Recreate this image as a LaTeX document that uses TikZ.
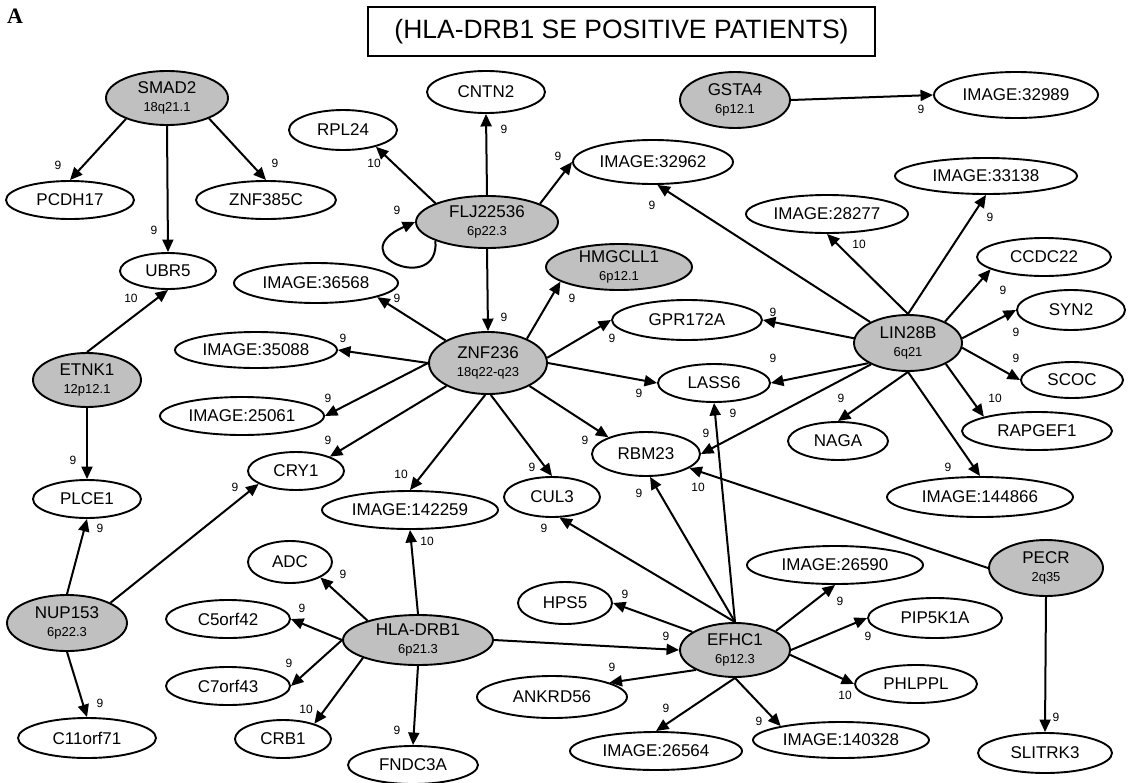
\documentclass[tikz,border=0pt]{standalone}
\usepackage{fontspec}
\setmainfont{Liberation Sans}
\newfontfamily\panelfont{Liberation Serif}
\usetikzlibrary{arrows.meta,shapes.geometric}
\definecolor{genegray}{RGB}{192,192,192}
\tikzset{
  gene/.style={ellipse, draw=black, line width=1.9pt, fill=white, inner sep=0pt,
    font=\fontsize{17}{17.5}\selectfont, align=center},
  hub/.style={gene, fill=genegray},
  sz/.style 2 args={minimum width=#1pt, minimum height=#2pt},
  link/.style={line width=2pt, -{Triangle[length=12.5pt,width=11pt]}},
  wt/.style={font=\fontsize{12}{12}\selectfont, inner sep=0pt},
}
\newcommand{\band}[1]{{\fontsize{13}{17.5}\selectfont #1}}
\begin{document}
\begin{tikzpicture}[x=1pt,y=-1pt]
\useasboundingbox (0,0) rectangle (1135,782);

% panel letter and title
\node[font=\panelfont\bfseries\fontsize{22}{22}\selectfont, inner sep=0pt] (panel) at (15,16) {A};
\node[draw, line width=1.8pt, minimum width=507pt, minimum height=49pt, inner sep=0pt,
  font=\fontsize{26.5}{28}\selectfont] (title) at (621.5,31.5) {(HLA-DRB1 SE POSITIVE PATIENTS)};

% genes
\node[hub,sz={122}{54}] (smad2) at (167,98) {SMAD2\\\band{18q21.1}};
\node[gene,sz={128}{38}] (pcdh17) at (70,200) {PCDH17};
\node[gene,sz={140}{38}] (znf385c) at (266,200) {ZNF385C};
\node[gene,sz={96}{36}] (ubr5) at (168,271) {UBR5};
\node[gene,sz={108}{40}] (rpl24) at (343,130) {RPL24};
\node[gene,sz={118}{42}] (cntn2) at (486,92) {CNTN2};
\node[hub,sz={142}{52}] (flj) at (487,222) {FLJ22536\\\band{6p22.3}};
\node[gene,sz={160}{44}] (img32962) at (653,162) {IMAGE:32962};
\node[hub,sz={110}{56}] (gsta4) at (735,100) {GSTA4\\\band{6p12.1}};
\node[gene,sz={164}{46}] (img32989) at (1016,95) {IMAGE:32989};
\node[gene,sz={182}{36}] (img33138) at (986,176) {IMAGE:33138};
\node[gene,sz={162}{38}] (img28277) at (827,214) {IMAGE:28277};
\node[gene,sz={134}{38}] (ccdc22) at (1044,257) {CCDC22};
\node[hub,sz={146}{46}] (hmgcll1) at (619,267) {HMGCLL1\\\band{6p12.1}};
\node[gene,sz={164}{40}] (img36568) at (316,283) {IMAGE:36568};
\node[gene,sz={150}{40}] (gpr172a) at (687,320) {GPR172A};
\node[hub,sz={118}{62}] (znf236) at (488,363) {ZNF236\\\band{18q22-q23}};
\node[gene,sz={162}{36}] (img35088) at (256,350) {IMAGE:35088};
\node[gene,sz={112}{38}] (lass6) at (714,383) {LASS6};
\node[hub,sz={108}{56}] (lin28b) at (908,343) {LIN28B\\\band{6q21}};
\node[gene,sz={108}{40}] (syn2) at (1071,310) {SYN2};
\node[gene,sz={102}{36}] (scoc) at (1072,380) {SCOC};
\node[gene,sz={150}{38}] (rapgef1) at (1037,431) {RAPGEF1};
\node[gene,sz={100}{38}] (naga) at (838,441) {NAGA};
\node[gene,sz={186}{40}] (img144866) at (980,497) {IMAGE:144866};
\node[hub,sz={108}{54}] (etnk1) at (87,380) {ETNK1\\\band{12p12.1}};
\node[gene,sz={164}{38}] (img25061) at (242,416) {IMAGE:25061};
\node[gene,sz={96}{38}] (cry1) at (296,471) {CRY1};
\node[gene,sz={108}{44}] (rbm23) at (646,454) {RBM23};
\node[gene,sz={108}{38}] (plce1) at (87,499) {PLCE1};
\node[gene,sz={96}{40}] (cul3) at (552,497) {CUL3};
\node[gene,sz={176}{38}] (img142259) at (410,510) {IMAGE:142259};
\node[gene,sz={84}{42}] (adc) at (290,562) {ADC};
\node[gene,sz={176}{38}] (img26590) at (835,565) {IMAGE:26590};
\node[hub,sz={114}{56}] (pecr) at (1046,568) {PECR\\\band{2q35}};
\node[hub,sz={120}{56}] (nup153) at (67,623) {NUP153\\\band{6p22.3}};
\node[gene,sz={124}{38}] (c5orf42) at (228,619) {C5orf42};
\node[gene,sz={94}{42}] (hps5) at (565,603) {HPS5};
\node[gene,sz={134}{40}] (pip5k1a) at (935,618) {PIP5K1A};
\node[hub,sz={150}{50}] (hladrb1) at (418,640) {HLA-DRB1\\\band{6p21.3}};
\node[hub,sz={110}{54}] (efhc1) at (735,650) {EFHC1\\\band{6p12.3}};
\node[gene,sz={124}{38}] (c7orf43) at (228,686) {C7orf43};
\node[gene,sz={150}{42}] (ankrd56) at (552,697) {ANKRD56};
\node[gene,sz={122}{38}] (phlppl) at (916,684) {PHLPPL};
\node[gene,sz={96}{38}] (crb1) at (283,739) {CRB1};
\node[gene,sz={138}{40}] (c11orf71) at (87,738) {C11orf71};
\node[gene,sz={130}{38}] (fndc3a) at (413,765) {FNDC3A};
\node[gene,sz={172}{38}] (img26564) at (656,751) {IMAGE:26564};
\node[gene,sz={176}{36}] (img140328) at (841,740) {IMAGE:140328};
\node[gene,sz={134}{40}] (slitrk3) at (1045,753) {SLITRK3};

% interactions
\draw[link] (smad2.207) -- (pcdh17.north);
\draw[link] (smad2.334) -- (znf385c.north);
\draw[link] (smad2.south) -- (ubr5.north);
\draw[link] (flj.160) -- (rpl24.333);
\draw[link] (flj.north) -- (cntn2.south);
\draw[link] (flj.19) -- (img32962.west);
\draw[link] (flj.200) .. controls (440,295) and (340,255) .. (flj.west);
\draw[link] (flj.south) -- (znf236.north);
\draw[link] (gsta4.east) -- (img32989.west);
\draw[link] (lin28b.151) -- (img32962.281);
\draw[link] (lin28b.north) -- (img28277.south);
\draw[link] (lin28b.north) -- (img33138.south);
\draw[link] (lin28b.30) -- (ccdc22.193);
\draw[link] (lin28b.5) -- (syn2.west);
\draw[link] (lin28b.355) -- (scoc.west);
\draw[link] (lin28b.331) -- (rapgef1.165);
\draw[link] (lin28b.south) -- (naga.north);
\draw[link] (lin28b.south) -- (img144866.north);
\draw[link] (lin28b.175) -- (gpr172a.east);
\draw[link] (lin28b.207) -- (lass6.east);
\draw[link] (lin28b.210) -- (rbm23.east);
\draw[link] (znf236.152) -- (img36568.347);
\draw[link] (znf236.west) -- (img35088.east);
\draw[link] (znf236.west) -- (img25061.east);
\draw[link] (znf236.209) -- (cry1.23);
\draw[link] (znf236.265) -- (img142259.north);
\draw[link] (znf236.275) -- (cul3.north);
\draw[link] (znf236.331) -- (rbm23.156);
\draw[link] (znf236.east) -- (lass6.west);
\draw[link] (znf236.5) -- (gpr172a.west);
\draw[link] (znf236.32) -- (hmgcll1.194);
\draw[link] (etnk1.north) -- (ubr5.south);
\draw[link] (etnk1.south) -- (plce1.north);
\draw[link] (nup153.north) -- (plce1.south);
\draw[link] (nup153.25) -- (cry1.199);
\draw[link] (nup153.south) -- (c11orf71.north);
\draw[link] (hladrb1.159) -- (adc.333);
\draw[link] (hladrb1.west) -- (c5orf42.east);
\draw[link] (hladrb1.west) -- (c7orf43.east);
\draw[link] (hladrb1.198) -- (crb1.26);
\draw[link] (hladrb1.south) -- (fndc3a.north);
\draw[link] (hladrb1.north) -- (img142259.south);
\draw[link] (hladrb1.east) -- (efhc1.west);
\draw[link] (efhc1.north) -- (cul3.290);
\draw[link] (efhc1.north) -- (rbm23.280);
\draw[link] (efhc1.north) -- (lass6.south);
\draw[link] (efhc1.157) -- (hps5.east);
\draw[link] (efhc1.207) -- (ankrd56.14);
\draw[link] (efhc1.south) -- (img26564.north);
\draw[link] (efhc1.south) -- (img140328.167);
\draw[link] (efhc1.25) -- (img26590.south);
\draw[link] (efhc1.east) -- (pip5k1a.west);
\draw[link] (efhc1.355) -- (phlppl.west);
\draw[link] (pecr.west) -- (rbm23.342);
\draw[link] (pecr.south) -- (slitrk3.north);

% edge weights
\node[wt] (w1) at (58,165) {9};
\node[wt] (w2) at (275,163) {9};
\node[wt] (w3) at (154,230) {9};
\node[wt] (w4) at (374,163) {10};
\node[wt] (w5) at (504,129) {9};
\node[wt] (w6) at (558,156) {9};
\node[wt] (w7) at (397,210) {9};
\node[wt] (w8) at (504,317) {9};
\node[wt] (w9) at (921,109) {9};
\node[wt] (w10) at (652,205) {9};
\node[wt] (w11) at (859,244) {10};
\node[wt] (w12) at (990,217) {9};
\node[wt] (w13) at (1003,290) {9};
\node[wt] (w14) at (1016,332) {9};
\node[wt] (w15) at (1016,358) {9};
\node[wt] (w16) at (995,398) {10};
\node[wt] (w17) at (841,398) {9};
\node[wt] (w18) at (948,467) {9};
\node[wt] (w19) at (773,312) {9};
\node[wt] (w20) at (773,358) {9};
\node[wt] (w21) at (706,433) {9};
\node[wt] (w22) at (397,298) {9};
\node[wt] (w23) at (343,338) {9};
\node[wt] (w24) at (328,398) {9};
\node[wt] (w25) at (328,440) {9};
\node[wt] (w26) at (401,474) {10};
\node[wt] (w27) at (532,467) {9};
\node[wt] (w28) at (585,440) {9};
\node[wt] (w29) at (639,393) {9};
\node[wt] (w30) at (612,338) {9};
\node[wt] (w31) at (572,298) {9};
\node[wt] (w32) at (131,298) {10};
\node[wt] (w33) at (73,460) {9};
\node[wt] (w34) at (100,528) {9};
\node[wt] (w35) at (235,487) {9};
\node[wt] (w36) at (100,703) {9};
\node[wt] (w37) at (343,574) {9};
\node[wt] (w38) at (302,608) {9};
\node[wt] (w39) at (289,663) {9};
\node[wt] (w40) at (306,709) {10};
\node[wt] (w41) at (397,730) {9};
\node[wt] (w42) at (427,541) {10};
\node[wt] (w43) at (666,636) {9};
\node[wt] (w44) at (544,528) {9};
\node[wt] (w45) at (639,493) {9};
\node[wt] (w46) at (733,413) {9};
\node[wt] (w47) at (625,594) {9};
\node[wt] (w48) at (612,667) {9};
\node[wt] (w49) at (666,708) {9};
\node[wt] (w50) at (759,721) {9};
\node[wt] (w51) at (840,601) {9};
\node[wt] (w52) at (868,636) {9};
\node[wt] (w53) at (845,695) {10};
\node[wt] (w54) at (698,487) {10};
\node[wt] (w55) at (1056,717) {9};
\end{tikzpicture}
\end{document}
